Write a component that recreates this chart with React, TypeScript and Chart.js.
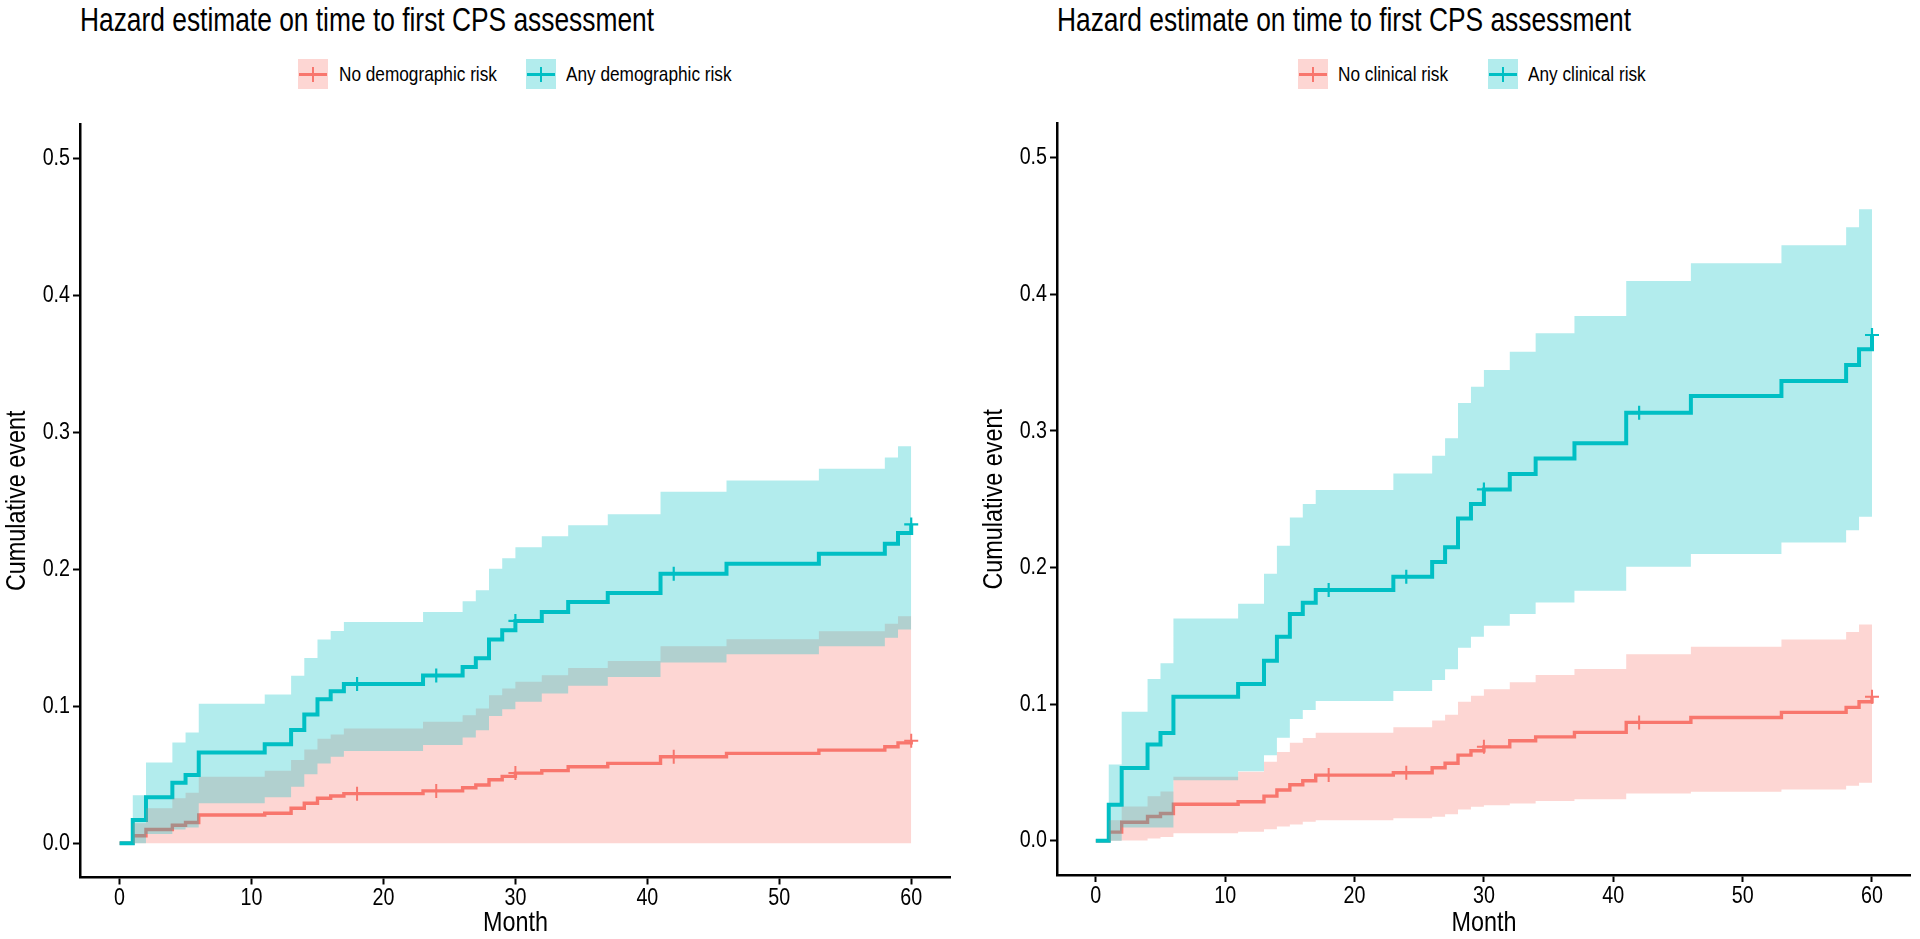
import React, { useEffect, useRef } from "react";
import { Chart, registerables } from "chart.js";

Chart.register(...registerables);

// ---------- data ----------
const months = [0, 1, 2, 4, 5, 6, 11, 13, 14, 15, 16, 17, 23, 26, 27, 28, 29, 30, 32, 34, 37, 41, 46, 53, 58, 59, 60];
const censorMonths = [18, 24, 30, 42, 60];
const xTicks = [0, 10, 20, 30, 40, 50, 60];
const yTicks = [0, 0.1, 0.2, 0.3, 0.4, 0.5];

const titleText = "Hazard estimate on time to first CPS assessment";
const xTitle = "Month";
const yTitle = "Cumulative event";

// Left panel: demographic risk
const demoLabels = ["No demographic risk", "Any demographic risk"];
const demoNoEst = [0, 0.0055, 0.0100, 0.0131, 0.0152, 0.0206, 0.0219, 0.0255, 0.0292, 0.0328, 0.0345, 0.0362, 0.0382, 0.0405, 0.0425, 0.0463, 0.0488, 0.0512, 0.0530, 0.0558, 0.0583, 0.0631, 0.0656, 0.0680, 0.0704, 0.0733, 0.0748];
const demoNoUpper = [0, 0.0146, 0.0255, 0.0328, 0.0369, 0.0486, 0.0529, 0.0607, 0.0685, 0.0762, 0.0794, 0.0838, 0.0887, 0.0935, 0.0984, 0.1081, 0.1130, 0.1178, 0.1227, 0.1280, 0.1331, 0.1438, 0.1489, 0.1547, 0.1603, 0.1657, 0.1657];
const demoNoLower = [0, 0, 0, 0, 0, 0, 0, 0, 0, 0, 0, 0, 0, 0, 0, 0, 0, 0, 0, 0, 0, 0, 0, 0, 0, 0, 0];
const demoAnyEst = [0, 0.0170, 0.0335, 0.0442, 0.0498, 0.0662, 0.0722, 0.0826, 0.0940, 0.1052, 0.1110, 0.1162, 0.1225, 0.1287, 0.1350, 0.1487, 0.1555, 0.1623, 0.1688, 0.1761, 0.1827, 0.1968, 0.2041, 0.2114, 0.2187, 0.2264, 0.2327];
const demoAnyUpper = [0, 0.0350, 0.0590, 0.0736, 0.0809, 0.1018, 0.1086, 0.1222, 0.1353, 0.1487, 0.1550, 0.1615, 0.1688, 0.1767, 0.1846, 0.2004, 0.2080, 0.2161, 0.2240, 0.2322, 0.2402, 0.2566, 0.2648, 0.2733, 0.2816, 0.2898, 0.2898];
const demoAnyLower = [0, 0, 0.0068, 0.0100, 0.0115, 0.0292, 0.0335, 0.0413, 0.0503, 0.0583, 0.0631, 0.0673, 0.0717, 0.0772, 0.0824, 0.0928, 0.0979, 0.1032, 0.1093, 0.1149, 0.1214, 0.1319, 0.1380, 0.1438, 0.1500, 0.1560, 0.1560];

// Right panel: clinical risk
const clinLabels = ["No clinical risk", "Any clinical risk"];
const clinNoEst = [0, 0.0064, 0.0136, 0.0178, 0.0200, 0.0268, 0.0286, 0.0327, 0.0372, 0.0410, 0.0440, 0.0481, 0.0498, 0.0535, 0.0568, 0.0627, 0.0659, 0.0688, 0.0732, 0.0761, 0.0794, 0.0867, 0.0903, 0.0940, 0.0977, 0.1018, 0.1054];
const clinNoUpper = [0, 0.0150, 0.0252, 0.0327, 0.0362, 0.0469, 0.0505, 0.0578, 0.0650, 0.0717, 0.0752, 0.0791, 0.0831, 0.0880, 0.0922, 0.1018, 0.1062, 0.1110, 0.1160, 0.1213, 0.1257, 0.1365, 0.1420, 0.1474, 0.1528, 0.1584, 0.1584];
const clinNoLower = [0, 0, 0.0003, 0.0017, 0.0029, 0.0055, 0.0066, 0.0085, 0.0105, 0.0120, 0.0139, 0.0151, 0.0165, 0.0177, 0.0195, 0.0230, 0.0249, 0.0261, 0.0274, 0.0291, 0.0305, 0.0347, 0.0359, 0.0376, 0.0403, 0.0425, 0.0425];
const clinAnyEst = [0, 0.0265, 0.0534, 0.0706, 0.0790, 0.1054, 0.1147, 0.1318, 0.1493, 0.1660, 0.1742, 0.1835, 0.1933, 0.2040, 0.2148, 0.2360, 0.2465, 0.2572, 0.2684, 0.2799, 0.2909, 0.3133, 0.3255, 0.3365, 0.3482, 0.3597, 0.3702];
const clinAnyUpper = [0, 0.0559, 0.0944, 0.1184, 0.1299, 0.1628, 0.1735, 0.1954, 0.2160, 0.2366, 0.2465, 0.2567, 0.2689, 0.2818, 0.2946, 0.3204, 0.3324, 0.3446, 0.3580, 0.3714, 0.3841, 0.4097, 0.4227, 0.4359, 0.4490, 0.4622, 0.4622];
const clinAnyLower = [0, 0, 0.0098, 0.0098, 0.0098, 0.0444, 0.0510, 0.0627, 0.0755, 0.0891, 0.0957, 0.1023, 0.1096, 0.1177, 0.1255, 0.1413, 0.1494, 0.1574, 0.1660, 0.1745, 0.1830, 0.2006, 0.2099, 0.2184, 0.2274, 0.2372, 0.2372];

// ---------- styles ----------
const RED = "#F8766D";
const CYAN = "#00BFC4";
const RED_FILL = "rgba(248,118,109,0.3)";
const CYAN_FILL = "rgba(0,191,196,0.3)";
const FONT = "'Liberation Sans', Arial, sans-serif";
const SX = 0.82; // horizontal condensing (narrow sans look)
const TITLE_SX = 0.775;

const toXY = (vals: number[]) => months.map((m, i) => ({ x: m, y: vals[i] }));
const stepAt = (t: number, vals: number[]) => {
  let v = vals[0];
  for (let i = 0; i < months.length; i++) if (months[i] <= t) v = vals[i];
  return v;
};
const censorXY = (vals: number[]) => censorMonths.map((m) => ({ x: m, y: stepAt(m, vals) }));

type Series = { est: number[]; upper: number[]; lower: number[] };

function buildDatasets(no: Series, any: Series) {
  const line = (vals: number[], color: string, w: number) => ({
    type: "line" as const,
    data: toXY(vals),
    borderColor: color,
    borderWidth: w,
    stepped: "before" as const,
    pointRadius: 0,
    fill: false,
    tension: 0,
    borderCapStyle: "butt" as const,
    borderJoinStyle: "miter" as const,
  });
  const upper = (vals: number[], fillColor: string) => ({
    type: "line" as const,
    data: toXY(vals),
    borderColor: "rgba(0,0,0,0)",
    borderWidth: 1,
    backgroundColor: fillColor,
    stepped: "before" as const,
    pointRadius: 0,
    fill: "+1",
    tension: 0,
  });
  const lower = (vals: number[]) => ({
    type: "line" as const,
    data: toXY(vals),
    borderColor: "rgba(0,0,0,0)",
    borderWidth: 1,
    stepped: "before" as const,
    pointRadius: 0,
    fill: false,
    tension: 0,
  });
  const censor = (vals: number[], color: string, w: number) => ({
    type: "scatter" as const,
    data: censorXY(vals),
    pointStyle: "cross" as const,
    pointRadius: 7,
    borderColor: color,
    backgroundColor: color,
    borderWidth: w,
    showLine: false,
  });
  // first dataset is drawn on top
  return [
    censor(any.est, CYAN, 2.2),
    censor(no.est, RED, 2),
    upper(any.upper, CYAN_FILL),
    lower(any.lower),
    upper(no.upper, RED_FILL),
    lower(no.lower),
    line(any.est, CYAN, 4),
    line(no.est, RED, 3.4),
  ];
}

// narrow text: condense canvas text horizontally around its anchor point
const condensePlugin = {
  id: "condense",
  beforeInit(chart: any) {
    const ctx = chart.ctx;
    const orig = ctx.fillText.bind(ctx);
    ctx.fillText = (text: string, x: number, y: number, maxWidth?: number) => {
      ctx.save();
      ctx.translate(x, y);
      ctx.scale(SX, 1);
      if (maxWidth !== undefined) orig(text, 0, 0, maxWidth / SX);
      else orig(text, 0, 0);
      ctx.restore();
    };
  },
};

type PanelProps = {
  left: number;
  width: number;
  padTop: number;
  padRight: number;
  xAxisHeight: number;
  no: Series;
  any: Series;
};

function Panel(p: PanelProps) {
  const ref = useRef<HTMLCanvasElement>(null);
  useEffect(() => {
    if (!ref.current) return;
    const tickFont = { family: FONT, size: 24, lineHeight: 1 };
    const titleFont = { family: FONT, size: 28.5, lineHeight: 1.1 };
    const chart = new Chart(ref.current, {
      type: "line",
      data: { datasets: buildDatasets(p.no, p.any) as any },
      plugins: [condensePlugin],
      options: {
        animation: false,
        responsive: false,
        events: [],
        layout: { padding: { left: 0, right: p.padRight, top: p.padTop, bottom: 0 } },
        plugins: {
          legend: { display: false },
          tooltip: { enabled: false },
          title: { display: false },
        },
        scales: {
          x: {
            type: "linear",
            min: -3,
            max: 63,
            afterBuildTicks: (s: any) => {
              s.ticks = xTicks.map((v) => ({ value: v }));
            },
            afterFit: (s: any) => {
              s.height = p.xAxisHeight;
            },
            grid: {
              drawOnChartArea: false,
              drawTicks: true,
              tickLength: 7,
              tickColor: "#000",
              tickWidth: 2,
              color: "#000",
            },
            border: { display: true, color: "#000", width: 2.5 },
            ticks: {
              color: "#000",
              font: tickFont,
              padding: 2,
              maxRotation: 0,
              autoSkip: false,
              callback: (v: any) => String(v),
            },
            title: {
              display: true,
              text: xTitle,
              color: "#000",
              font: titleFont,
              padding: { top: 0, bottom: 0 },
            },
          },
          y: {
            type: "linear",
            min: -0.025,
            max: 0.525,
            afterBuildTicks: (s: any) => {
              s.ticks = yTicks.map((v) => ({ value: v }));
            },
            afterFit: (s: any) => {
              s.width = 80;
            },
            grid: {
              drawOnChartArea: false,
              drawTicks: true,
              tickLength: 7,
              tickColor: "#000",
              tickWidth: 2,
              color: "#000",
            },
            border: { display: true, color: "#000", width: 2.5 },
            ticks: {
              color: "#000",
              font: tickFont,
              padding: 3,
              autoSkip: false,
              callback: (v: any) => Number(v).toFixed(1),
            },
            title: {
              display: true,
              text: yTitle,
              color: "#000",
              font: titleFont,
              padding: { top: 1, bottom: 0 },
            },
          },
        },
      } as any,
    });
    return () => chart.destroy();
  }, []);
  return (
    <canvas
      ref={ref}
      width={p.width}
      height={939}
      style={{ position: "absolute", left: p.left, top: 0, width: p.width, height: 939 }}
    />
  );
}

const narrowText = (size: number, sx: number): React.CSSProperties => ({
  position: "absolute",
  fontFamily: FONT,
  fontSize: size,
  color: "#000",
  whiteSpace: "nowrap",
  transform: `scaleX(${sx})`,
  transformOrigin: "left center",
});

function LegendKey({ left, color, fill }: { left: number; color: string; fill: string }) {
  return (
    <div style={{ position: "absolute", left, top: 59, width: 30, height: 30, background: fill }}>
      <div style={{ position: "absolute", left: 1, right: 1, top: 13.5, height: 3, background: color }} />
      <div style={{ position: "absolute", left: 14, width: 2, top: 8, height: 15, background: color }} />
    </div>
  );
}

function Legend({ pos, labels }: { pos: number[]; labels: string[] }) {
  const t = { ...narrowText(21, SX), top: 59, lineHeight: "30px" };
  return (
    <>
      <LegendKey left={pos[0]} color={RED} fill={RED_FILL} />
      <span style={{ ...t, left: pos[1] }}>{labels[0]}</span>
      <LegendKey left={pos[2]} color={CYAN} fill={CYAN_FILL} />
      <span style={{ ...t, left: pos[3] }}>{labels[1]}</span>
    </>
  );
}

function Title({ left }: { left: number }) {
  return <div style={{ ...narrowText(34, TITLE_SX), left, top: 2, lineHeight: "34px" }}>{titleText}</div>;
}

export default function App() {
  return (
    <div
      style={{
        position: "fixed",
        left: 0,
        top: 0,
        width: 1920,
        height: 939,
        background: "#fff",
        overflow: "hidden",
      }}
    >
      <Title left={80} />
      <Legend pos={[298, 339, 526, 566]} labels={demoLabels} />
      <Panel
        left={0}
        width={960}
        padTop={124}
        padRight={4}
        xAxisHeight={61.5}
        no={{ est: demoNoEst, upper: demoNoUpper, lower: demoNoLower }}
        any={{ est: demoAnyEst, upper: demoAnyUpper, lower: demoAnyLower }}
      />
      <Title left={1057} />
      <Legend pos={[1298, 1338, 1488, 1528]} labels={clinLabels} />
      <Panel
        left={977}
        width={943}
        padTop={123.5}
        padRight={5}
        xAxisHeight={64}
        no={{ est: clinNoEst, upper: clinNoUpper, lower: clinNoLower }}
        any={{ est: clinAnyEst, upper: clinAnyUpper, lower: clinAnyLower }}
      />
    </div>
  );
}
